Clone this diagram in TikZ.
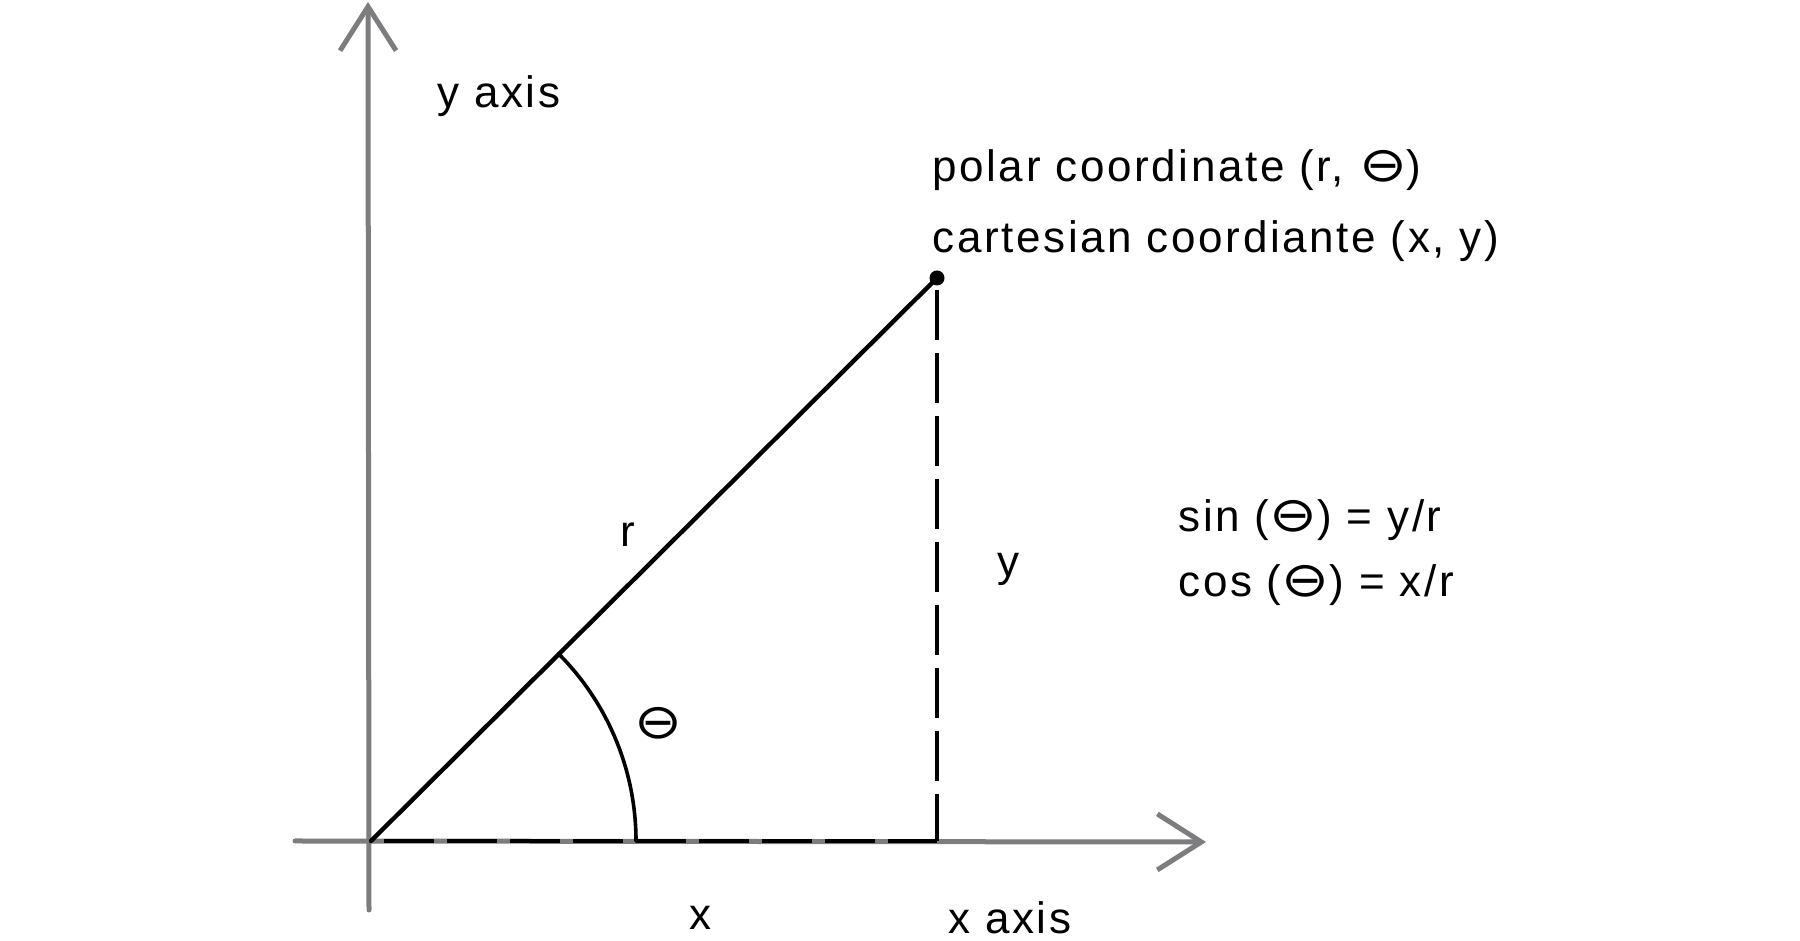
\documentclass[tikz,border=0pt]{standalone}
\usepackage{fontspec}
\usepackage{graphicx}
\setmainfont{Liberation Sans}[LetterSpace=6]
\newfontfamily\symfont{DejaVu Sans}
\usetikzlibrary{arrows.meta}
\definecolor{axisgray}{RGB}{125,125,128}
\newcommand{\thet}{{\symfont\scalebox{1.3}[1.1]{⊖}}}
\tikzset{
  axisline/.style={draw=axisgray, line width=2.5pt, line cap=round,
    -{Straight Barb[length=22pt,width=28pt,line width=2.5pt]}},
  solidline/.style={draw=black, line width=2.2pt, line cap=round},
  dashline/.style={draw=black, line width=2pt, dash pattern=on 25pt off 6.5pt},
  lbl/.style={inner sep=0pt, font=\fontsize{22pt}{26pt}\selectfont, text=black},
}
\begin{document}
\begin{tikzpicture}[x=0.5pt,y=0.5pt]
\useasboundingbox (0,0) rectangle (1800,941);
\coordinate (O) at (371,100);
\coordinate (P) at (937,663);
\coordinate (Ybot) at (369,31);
\coordinate (Ytop) at (368,939);
\coordinate (Xleft) at (295,100);
\coordinate (Xright) at (1206,99);
\coordinate (Pfoot) at (937,100);
\coordinate (Ptop) at (937,651);
\coordinate (Hstart) at (384,100);

\draw[axisline] (Ybot) -- (Ytop);
\draw[axisline] (Xleft) -- (Xright);

\draw[dashline] (Hstart) -- (Pfoot);
\draw[dashline] (Ptop) -- (Pfoot);
\draw[solidline] (O) -- (P);
\draw[solidline, line width=1.8pt] (O) ++(0:265) arc[start angle=0,end angle=45,radius=265];
\fill (P) circle[radius=7.5];

\node[lbl, anchor=base west] (yaxis) at (437,833) {y axis};
\node[lbl, anchor=base west] (polar) at (932,759) {polar coordinate (r, \thet)};
\node[lbl, anchor=base west] (cart) at (932,688) {cartesian coordiante (x, y)};
\node[lbl, anchor=base west] (sin) at (1178,409) {sin (\thet) = y/r};
\node[lbl, anchor=base west] (cos) at (1178,344) {cos (\thet) = x/r};
\node[lbl, anchor=base] (rlab) at (628,394) {r};
\node[lbl, anchor=base] (ylab) at (1008,364) {y};
\node[lbl, anchor=base] (xlab) at (700,11) {x};
\node[lbl, anchor=base west] (xaxis) at (948,7) {x axis};
\node[lbl] (thlab) at (658,218) {\thet};
\end{tikzpicture}
\end{document}
